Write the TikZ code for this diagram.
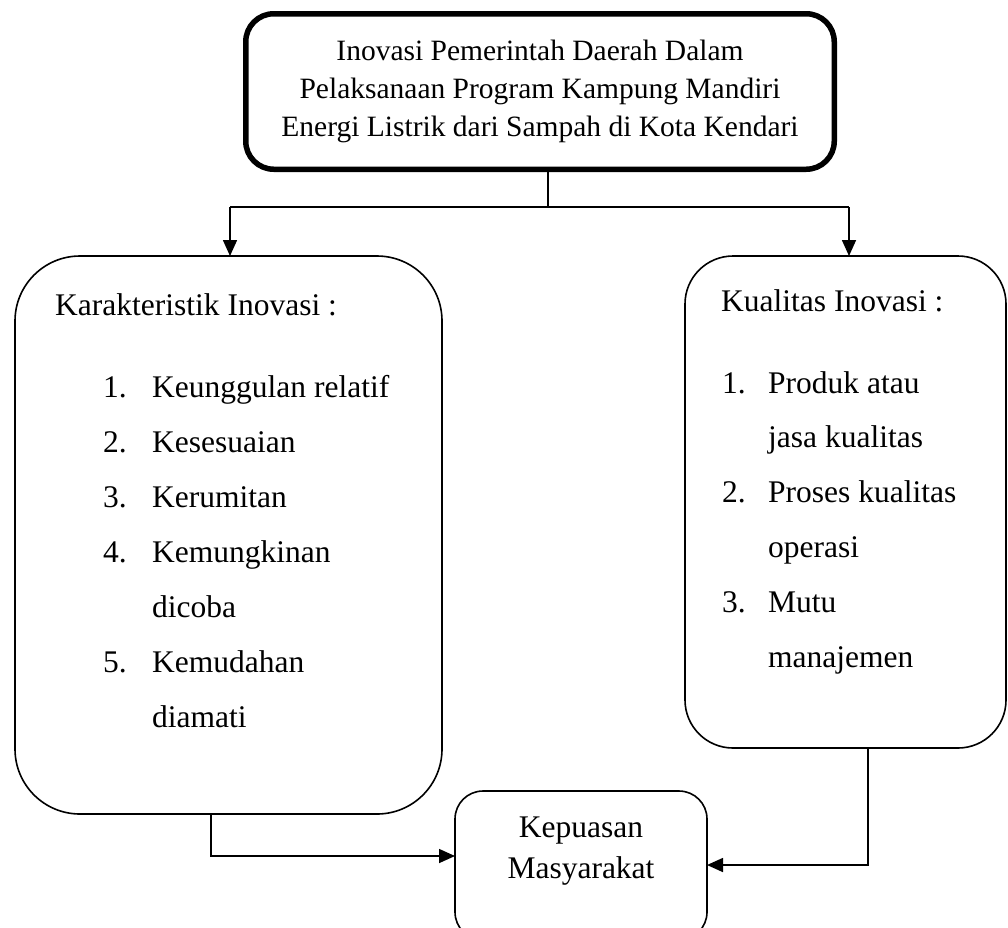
\documentclass[tikz,border=0pt]{standalone}
\usepackage{fontspec}
\setmainfont{Liberation Serif}
\usetikzlibrary{arrows.meta}
\begin{document}
\begin{tikzpicture}[x=1pt,y=-1pt,
  box/.style={draw, line width=1.6pt, inner sep=0pt, outer sep=0pt},
  txt/.style={inner sep=0pt, anchor=base west, font=\fontsize{31.5}{38}\selectfont},
  ttl/.style={inner sep=0pt, anchor=base, font=\fontsize{29.5}{36}\selectfont},
  ctr/.style={inner sep=0pt, anchor=base, font=\fontsize{31.5}{38}\selectfont},
  arr/.style={line width=1.6pt, -{Triangle[length=16pt,width=14pt]}},
  ln/.style={line width=1.6pt}]
\clip (0,0) rectangle (1008,927);
% boxes
\node[box, line width=5.5pt, rounded corners=28pt, minimum width=588.5pt, minimum height=155.5pt] (top) at (540,91.5) {};
\node[box, rounded corners=65pt, minimum width=427pt, minimum height=558pt] (left) at (228.5,535) {};
\node[box, rounded corners=48pt, minimum width=321pt, minimum height=492pt] (right) at (845.5,502) {};
\node[box, rounded corners=28pt, minimum width=252pt, minimum height=149pt] (bot) at (581,865.5) {};
% top text
\node[ttl] (tl1) at (540,60) {Inovasi Pemerintah Daerah Dalam};
\node[ttl] (tl2) at (540,98) {Pelaksanaan Program Kampung Mandiri};
\node[ttl] (tl3) at (540,136) {Energi Listrik dari Sampah di Kota Kendari};
% left text
\node[txt] (lt) at (55,315) {Karakteristik Inovasi :};
\node[txt] (ln1) at (103,397) {1.};
\node[txt] (ln2) at (103,452) {2.};
\node[txt] (ln3) at (103,507) {3.};
\node[txt] (ln4) at (103,562) {4.};
\node[txt] (ln5) at (103,672) {5.};
\node[txt] (la1) at (152,397) {Keunggulan relatif};
\node[txt] (la2) at (152,452) {Kesesuaian};
\node[txt] (la3) at (152,507) {Kerumitan};
\node[txt] (la4) at (152,562) {Kemungkinan};
\node[txt] (la5) at (152,617) {dicoba};
\node[txt] (la6) at (152,672) {Kemudahan};
\node[txt] (la7) at (152,727) {diamati};
% right text
\node[txt] (rt) at (721,311) {Kualitas Inovasi :};
\node[txt] (rn1) at (722,393) {1.};
\node[txt] (rn2) at (722,502) {2.};
\node[txt] (rn3) at (722,612) {3.};
\node[txt] (ra1) at (768,393) {Produk atau};
\node[txt] (ra2) at (768,447) {jasa kualitas};
\node[txt] (ra3) at (768,502) {Proses kualitas};
\node[txt] (ra4) at (768,557) {operasi};
\node[txt] (ra5) at (768,612) {Mutu};
\node[txt] (ra6) at (768,667) {manajemen};
% bottom text
\node[ctr] (b1) at (581,837) {Kepuasan};
\node[ctr] (b2) at (581,878) {Masyarakat};
% connectors
\coordinate (j) at (548,207);
\coordinate (jl) at (230,207);
\coordinate (jr) at (849,207);
\coordinate (lb) at (211,856);
\coordinate (rb) at (868,865);
\draw[ln] (j |- top.south) -- (j);
\draw[ln] (jl) -- (jr);
\draw[arr] (jl) -- (jl |- left.north);
\draw[arr] (jr) -- (jr |- right.north);
\draw[arr] (lb |- left.south) -- (lb) -- (lb -| bot.west);
\draw[arr] (rb |- right.south) -- (rb) -- (rb -| bot.east);
\end{tikzpicture}
\end{document}
